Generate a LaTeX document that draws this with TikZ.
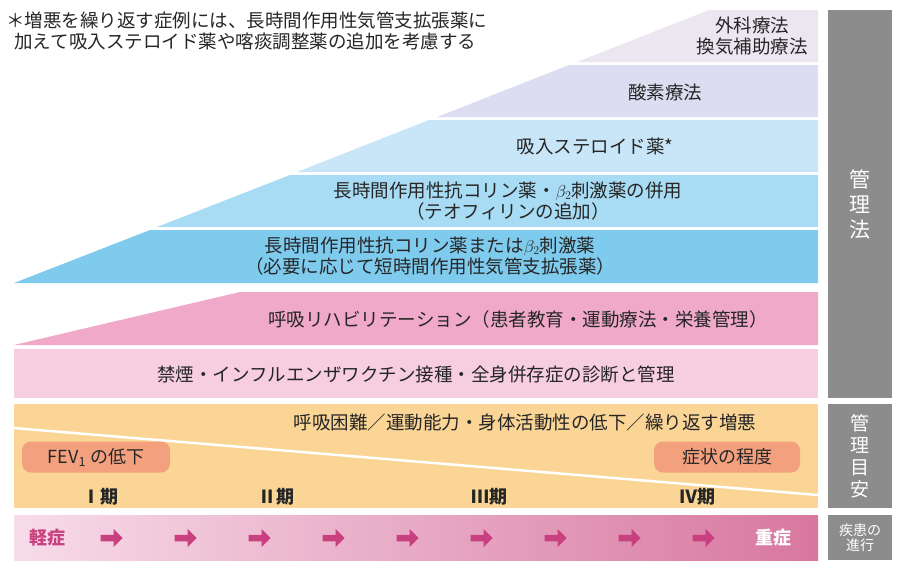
\documentclass[tikz,border=0pt]{standalone}
\usepackage{fontspec}
\setmainfont{Noto Sans CJK JP}
\usetikzlibrary{shapes.arrows}
\definecolor{b1}{HTML}{ECE6F1}
\definecolor{b2}{HTML}{DCDDF1}
\definecolor{b3}{HTML}{C8E6F7}
\definecolor{b4}{HTML}{A8DBF4}
\definecolor{b5}{HTML}{7FCBEE}
\definecolor{p1}{HTML}{F1A9C9}
\definecolor{p2}{HTML}{F7CDE0}
\definecolor{or}{HTML}{FAD596}
\definecolor{pill}{HTML}{F2A07E}
\definecolor{gr}{HTML}{8C8C8C}
\definecolor{mag}{HTML}{C8407F}
\definecolor{gl}{HTML}{F7DCE9}
\definecolor{gd}{HTML}{D8779F}
\tikzset{
 txt/.style={font=\fontsize{18.5}{21}\selectfont, align=center, text=black!85, inner sep=0pt},
 side/.style={fill=gr, draw=none},
 sidetxt/.style={text=white, font=\fontsize{21}{25}\selectfont, align=center},
 pilltxt/.style={fill=pill, rounded corners=9pt, minimum height=31pt, font=\fontsize{18}{20}\selectfont, text=black!85},
 stage/.style={font=\bfseries\fontsize{18}{20}\selectfont, text=black!85},
 arr/.style={single arrow, fill=mag, draw=none, minimum height=22pt, minimum width=18pt, single arrow head extend=3pt, inner sep=1.5pt}
}
\begin{document}
\begin{tikzpicture}[x=1pt,y=-1pt]
\useasboundingbox (0,0) rectangle (900,566);
\fill[b1] (709,10) -- (818,10) -- (818,62) -- (577,62) -- cycle;
\fill[b2] (569,65) -- (818,65) -- (818,117) -- (437,117) -- cycle;
\fill[b3] (429,120) -- (818,120) -- (818,172) -- (297,172) -- cycle;
\fill[b4] (290,175) -- (818,175) -- (818,227) -- (157,227) -- cycle;
\fill[b5] (150,230) -- (818,230) -- (818,283) -- (14,283) -- cycle;
\node[txt] (t1) at (752,36) {外科療法\\換気補助療法};
\node[txt] (t2) at (665,92) {酸素療法};
\node[txt] (t3) at (595,146) {吸入ステロイド薬*};
\node[txt] (t4) at (508,201) {長時間作用性抗コリン薬・$\beta_2$刺激薬の併用\\（テオフィリンの追加）};
\node[txt] (t5) at (430,256) {長時間作用性抗コリン薬または$\beta_2$刺激薬\\（必要に応じて短時間作用性気管支拡張薬）};
\node[txt, anchor=north west, align=left] (note) at (6,12) {＊増悪を繰り返す症例には、長時間作用性気管支拡張薬に\\\ \ 加えて吸入ステロイド薬や喀痰調整薬の追加を考慮する};
\fill[p1] (240,292) -- (818,292) -- (818,345) -- (14,345) -- cycle;
\fill[p2] (14,349) rectangle (818,398);
\node[txt] (t6) at (518,319) {呼吸リハビリテーション（患者教育・運動療法・栄養管理）};
\node[txt] (t7) at (416,374) {禁煙・インフルエンザワクチン接種・全身併存症の診断と管理};
\fill[or] (14,404) rectangle (818,508);
\draw[white, line width=2.5pt] (14,428) -- (818,495);
\node[txt] (t8) at (525,422) {呼吸困難／運動能力・身体活動性の低下／繰り返す増悪};
\node[pilltxt, minimum width=148pt] (fev) at (96,457) {FEV\textsubscript{1} の低下};
\node[pilltxt, minimum width=146pt] (sym) at (727,457) {症状の程度};
\node[stage] (s1) at (100,497) {Ⅰ期};
\node[stage] (s2) at (276,497) {Ⅱ期};
\node[stage] (s3) at (489,497) {Ⅲ期};
\node[stage] (s4) at (697,497) {Ⅳ期};
\shade[left color=gl, right color=gd] (14,515) rectangle (818,560);
\node[font=\bfseries\fontsize{18}{20}\selectfont, text=mag] (mild) at (47,538) {軽症};
\node[font=\bfseries\fontsize{18}{20}\selectfont, text=white] (sev) at (773,538) {重症};
\foreach \i in {0,...,8} {\node[arr] (a\i) at (110+74*\i,538) {};}
\fill[side] (828,10) rectangle (892,398);
\fill[side] (828,404) rectangle (892,508);
\fill[side] (828,515) rectangle (892,560);
\node[sidetxt] (m1) at (860,204) {管\\理\\法};
\node[sidetxt, font=\fontsize{19}{22}\selectfont] (m2) at (860,456) {管\\理\\目\\安};
\node[sidetxt, font=\fontsize{14}{15}\selectfont] (m3) at (860,538) {疾患の\\進行};
\end{tikzpicture}
\end{document}
